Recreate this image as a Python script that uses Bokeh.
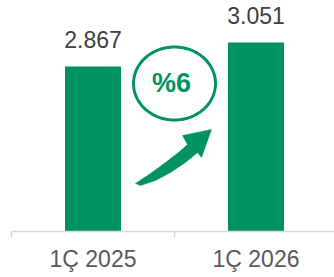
import numpy as np
from bokeh.plotting import figure
from bokeh.models import Range1d, FixedTicker, ColumnDataSource
from bokeh.embed import file_html
from bokeh.resources import INLINE
from bokeh.core.properties import value

categories = ["1Ç 2025", "1Ç 2026"]
values = [2867, 3051]
value_labels = ["2.867", "3.051"]
change_label = "%6"

GREEN = "#00935F"
PX_PER_UNIT = 223 / 1710.0
Y0 = 1602
FW, FH = 323, 231
Y1 = Y0 + FH / PX_PER_UNIT
X1 = FW / 163.0

p = figure(width=334, height=277, frame_width=FW, frame_height=FH,
           x_range=Range1d(0, X1), y_range=Range1d(Y0, Y1),
           output_backend="svg", toolbar_location=None, y_axis_location=None,
           min_border_left=11, min_border_right=0, min_border_top=0, min_border_bottom=0)
p.outline_line_color = None
p.grid.visible = False
p.background_fill_color = "white"

xs = [i + 0.5 for i in range(len(categories))]
src = ColumnDataSource(dict(x=xs, top=values, lab=value_labels))
p.vbar(x="x", top="top", bottom=Y0, width=56 / 163.0, source=src,
       fill_color=GREEN, line_color=None)
p.text(x="x", y="top", text="lab", source=src, text_align="center",
       text_baseline="alphabetic", y_offset=-27, text_color="#404040",
       text_font=value("Liberation Sans"), text_font_size="23px")

ax = p.xaxis[0]
ax.ticker = FixedTicker(ticks=xs, minor_ticks=[0, 1, 2])
ax.major_label_overrides = {x: c for x, c in zip(xs, categories)}
ax.axis_line_color = "#d9d9d9"
ax.axis_line_width = 1.5
ax.major_tick_line_color = None
ax.major_tick_out = 0
ax.major_tick_in = 0
ax.minor_tick_line_color = "#d9d9d9"
ax.minor_tick_line_width = 1.5
ax.minor_tick_out = 6
ax.minor_tick_in = 0
ax.major_label_text_font = "Liberation Sans"
ax.major_label_text_font_size = "23px"
ax.major_label_text_color = "#595959"
ax.major_label_standoff = 8

# helpers: screen px (page coords) -> data
def dx(sx):
    return (sx - 11) / 163.0

def dy(sy):
    return Y0 + (231 - sy) / PX_PER_UNIT

# ellipse badge (drawn as a closed outline)
t = np.linspace(0, 2 * np.pi, 121)
ex = [dx(174 + 41 * np.cos(a)) for a in t]
ey = [dy(83 + 36.5 * np.sin(a)) for a in t]
p.line(x=ex, y=ey, line_color=GREEN, line_width=3)
p.text(x=[dx(171)], y=[dy(82)], text=[change_label], text_align="center",
       text_baseline="middle", text_color=GREEN, text_font=value("Liberation Sans"),
       text_font_style="bold", text_font_size="27px")

# curved arrow
arrow_px = [(135, 183), (150, 173), (165, 162), (178, 152), (187, 144),
            (182, 135), (211, 129), (201, 157), (197, 152),
            (185, 162), (170, 172), (155, 180), (140, 185)]
p.patch(x=[dx(a) for a, b in arrow_px], y=[dy(b) for a, b in arrow_px],
        fill_color=GREEN, line_color=GREEN, line_width=0.5)

open("out.html", "w").write(file_html(p, INLINE))
